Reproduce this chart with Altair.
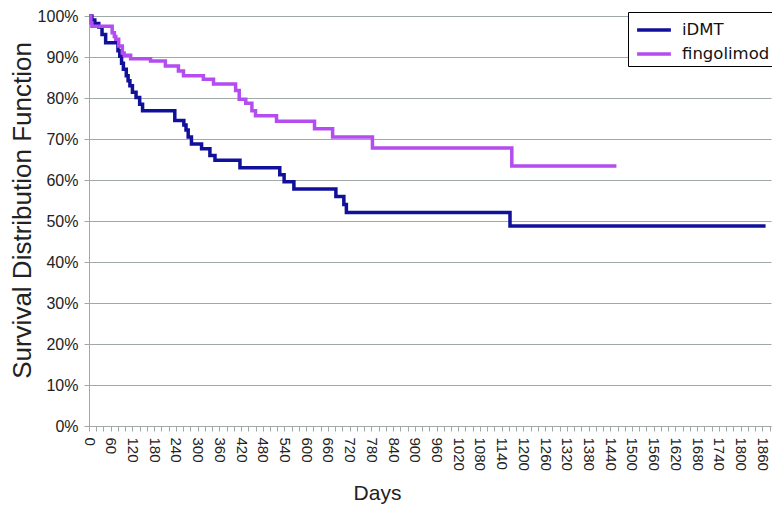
import altair as alt
import pandas as pd

# Kaplan-Meier style survival estimates (percent)
groups = ["iDMT", "fingolimod"]
colors = ["#10109a", "#b44cf0"]

idmt_days = [0, 8, 16, 27, 36, 46, 80, 85, 90, 95, 103, 108, 113, 120, 130, 140, 148,
             237, 262, 268, 274, 283, 311, 334, 348, 417, 527, 539, 566, 682, 704, 711, 1163, 1869]
idmt_surv = [100, 99, 98.2, 97.3, 95.5, 93.5, 91.5, 90.2, 88.5, 87, 85.4, 84.2, 83, 81.4, 80.1, 78.5, 76.9,
             74.5, 73.4, 72.2, 70.5, 68.8, 67.6, 66.0, 64.8, 63.0, 61.3, 59.6, 57.8, 56.0, 54.0, 52.1, 48.8, 48.8]

fing_days = [0, 5, 8, 64, 70, 74, 82, 92, 97, 115, 170, 211, 247, 261, 316, 344,
             405, 415, 433, 450, 460, 518, 623, 673, 783, 1168, 1457]
fing_surv = [100, 98.3, 97.5, 95.9, 95.0, 94.3, 92.7, 91.0, 90.4, 89.6, 89.0, 87.8, 86.6, 85.4, 84.6, 83.4,
             81.8, 79.7, 78.7, 76.9, 75.7, 74.3, 72.5, 70.5, 67.8, 63.4, 63.4]

x_ticks = list(range(0, 1881, 20))
y_ticks = [0, 10, 20, 30, 40, 50, 60, 70, 80, 90, 100]

df = pd.concat([
    pd.DataFrame({"day": idmt_days, "surv": idmt_surv, "group": "iDMT", "k": 0}),
    pd.DataFrame({"day": fing_days, "surv": fing_surv, "group": "fingolimod", "k": 1}),
])

grid_col = "#a0a8a8"
font = "Liberation Sans"

chart = alt.Chart(df).mark_line(interpolate="step-after", strokeWidth=3.5).encode(
    x=alt.X("day:Q",
            scale=alt.Scale(domain=[0, 1884], nice=False, zero=True),
            axis=alt.Axis(values=x_ticks,
                          labelExpr="datum.value % 60 == 0 ? datum.label : ''",
                          format="d", labelAngle=90, labelOverlap=False, labelBound=False,
                          labelPadding=6, labelFontSize=15, labelFont=font, labelColor="#222",
                          grid=False, tickSize=5, tickColor=grid_col, domainColor=grid_col,
                          title="Days", titleFont=font, titleFontSize=21, titleFontWeight="normal",
                          titleColor="#222", titleX=288, titleY=73, titleBaseline="alphabetic",
                          titleAlign="center")),
    y=alt.Y("surv:Q",
            scale=alt.Scale(domain=[0, 100], nice=False),
            axis=alt.Axis(values=y_ticks, labelExpr="datum.value + '%'",
                          labelPadding=6, labelFontSize=16, labelFont=font, labelColor="#222",
                          grid=True, gridColor=grid_col, gridWidth=1.2,
                          tickSize=5, tickColor=grid_col, domainColor=grid_col,
                          title="Survival Distribution Function", titleFont=font,
                          titleFontSize=26, titleFontWeight="normal", titleColor="#222",
                          titleAngle=270, titleX=-59, titleY=194, titleAlign="center",
                          titleBaseline="alphabetic")),
    color=alt.Color("group:N",
                    scale=alt.Scale(domain=groups, range=colors),
                    sort=groups,
                    legend=alt.Legend(orient="none", legendX=539, legendY=-4, title=None,
                                      strokeColor="black", fillColor="white", padding=3,
                                      symbolType="M-1.3,0H1.3", symbolSize=676, symbolStrokeWidth=3.5,
                                      symbolOffset=8,
                                      labelFont="DejaVu Sans", labelFontSize=16.5, labelColor="#111",
                                      labelOffset=13, rowPadding=0)),
    order=alt.Order("k:Q"),
    detail="group:N",
).properties(
    width=682,
    height=410,
    autosize=alt.AutoSizeParams(type="none"),
    padding={"left": 81, "top": 8, "right": 1, "bottom": 78},
).configure_view(stroke=None)

chart.save("out.html", embed_options={"renderer": "svg", "actions": False})
